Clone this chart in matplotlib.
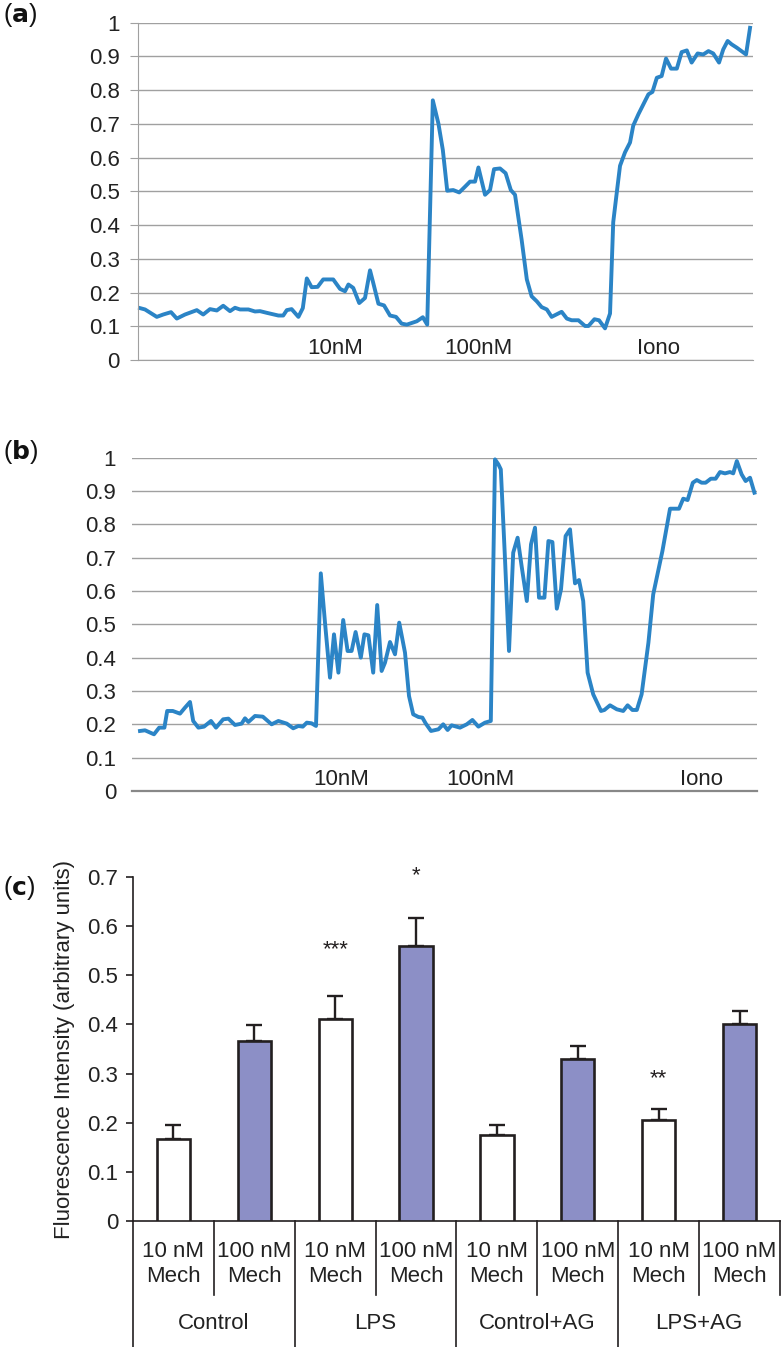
import numpy as np
import matplotlib
matplotlib.use('Agg')
import matplotlib.pyplot as plt
from matplotlib.transforms import blended_transform_factory

plt.rcParams['font.family'] = ['Liberation Sans', 'DejaVu Sans']

# trace (a): time (frames) and normalised fluorescence
t_a = [0.5, 1.75, 4.7, 6.3, 8.25, 9.7, 11.75, 14.7, 16.3, 18.0, 19.7, 21.3, 23.0, 24.25, 25.5,
       27.6, 29.25, 30.5, 32.2, 35.1, 36.3, 37.2, 38.4, 40.1, 41.2, 42.2, 43.4, 44.9, 46.3, 48.8,
       50.5, 51.75, 52.6, 53.8, 55.3, 56.75, 58.0, 58.8, 60.1, 61.5, 63.0, 64.5, 65.9, 67.2, 69.7,
       71.2, 72.3, 73.7, 75.1, 76.2, 77.3, 78.8, 80.3, 81.75, 83.0, 84.25, 85.1, 86.75, 88.0, 89.0,
       90.5, 91.9, 93.2, 94.25, 95.9, 97.2, 98.4, 99.7, 100.9, 102.2, 103.4, 105.9, 107.2, 108.4,
       110.1, 111.75, 112.6, 114.1, 115.25, 116.75, 118.0, 118.8, 119.7, 120.5, 121.75, 123.0,
       123.8, 125.1, 126.75, 127.6, 128.6, 129.7, 130.9, 132.0, 133.25, 134.7, 135.9, 137.2,
       138.4, 139.9, 141.3, 142.6, 143.8, 145.25, 146.3, 147.4, 148.4, 149.7, 152.0, 153.0]
f_a = [.154, .150, .128, .135, .142, .123, .135, .148, .135, .151, .147, .161, .145, .155, .150,
       .150, .144, .145, .140, .132, .132, .148, .151, .128, .154, .242, .216, .217, .239, .239,
       .211, .204, .224, .214, .169, .184, .266, .229, .167, .162, .132, .128, .108, .105, .115,
       .127, .105, .770, .701, .623, .502, .504, .497, .514, .529, .529, .571, .490, .504, .566,
       .568, .554, .504, .490, .357, .239, .189, .174, .157, .150, .128, .143, .123, .118,
       .118, .101, .101, .121, .118, .094, .138, .409, .498, .576, .616, .645,
       .695, .729, .768, .788, .795, .837, .842, .894, .864, .864, .913, .918,
       .882, .909, .906, .916, .909, .882, .921, .946, .936, .926, .906, .985]

# trace (b)
t_b = [2.0, 3.25, 5.5, 6.8, 8.1, 8.8, 10.2, 12.0, 13.25, 14.5, 15.3, 16.6, 18.0, 19.75, 21.0,
       22.8, 24.1, 25.75, 27.4, 28.25, 29.1, 30.75, 32.7, 34.9, 36.6, 38.7, 40.3, 41.6, 42.7,
       43.7, 44.9, 46.0, 47.2, 48.25, 49.5, 50.5, 51.6, 52.8, 53.9, 54.9, 55.9, 57.2, 58.1,
       59.1, 60.3, 61.3, 62.4, 63.25, 64.5, 65.75, 66.8, 68.25, 69.25, 70.3, 71.6, 72.6, 73.4,
       74.75, 76.6, 77.8, 78.9, 79.9, 82.0, 83.7, 85.1, 86.6, 88.25, 89.7, 90.75, 91.6, 92.2,
       93.25, 94.25, 95.3, 96.4, 97.4, 98.7, 99.75, 100.75, 101.75, 103.1, 104.1, 105.1, 106.2,
       107.25, 108.4, 109.5, 110.75, 111.75, 112.8, 113.9, 115.3, 117.25, 118.1, 119.5, 121.2,
       122.8, 123.9, 125.1, 126.2, 127.4, 129.1, 130.3, 132.6, 134.5, 136.75, 137.8, 138.9,
       140.2, 141.2, 142.4, 143.4, 144.7, 145.9, 147.0, 148.25, 149.5, 150.3, 151.2, 152.4,
       153.4, 154.5, 155.6]
f_b = [.18, .182, .17, .19, .19, .24, .24, .232, .25, .267, .21, .19, .193, .21, .19,
       .215, .217, .198, .202, .218, .207, .225, .223, .20, .21, .202, .188, .195, .193,
       .205, .203, .195, .653, .505, .34, .47, .355, .513, .42, .42, .477, .40, .47,
       .467, .355, .558, .36, .385, .447, .41, .505, .415, .285, .23, .222, .22, .203,
       .18, .185, .20, .183, .197, .19, .20, .213, .193, .205, .21, .995, .98, .965,
       .695, .42, .715, .76, .675, .57, .74, .79, .58, .58, .75, .747, .547,
       .605, .765, .785, .623, .633, .57, .355, .29, .24, .243, .257, .245,
       .24, .257, .243, .243, .29, .445, .59, .72, .847, .847, .877, .873,
       .925, .933, .925, .925, .937, .937, .957, .953, .957, .953, .99, .95,
       .93, .94, .895]

trace_labels = ['10nM', '100nM', 'Iono']
label_t_a = [49.25, 85, 130]
label_t_b = [52.4, 87, 142.4]

# panel (c)
groups = ['Control', 'LPS', 'Control+AG', 'LPS+AG']
doses = ['10 nM\nMech', '100 nM\nMech']
means = [0.167, 0.366, 0.411, 0.560, 0.176, 0.330, 0.206, 0.400]
errs = [0.028, 0.033, 0.047, 0.057, 0.019, 0.027, 0.023, 0.027]
stars = {2: '***', 3: '*', 6: '**'}
star_y = [0.552, 0.703, 0.290]

blue = '#2b84c6'
grid_c = '#a0a0a0'
txt = '#222222'
fs = 16

fig = plt.figure(figsize=(7.81, 13.47), dpi=100)

# ---- (a)
ax1 = fig.add_axes([0.1767, 0.7327, 0.7875, 0.2504])
ax1.plot(t_a, f_a, color=blue, lw=2.8, clip_on=False, solid_joinstyle='round')
ax1.set_xlim(0, 153.75)
ax1.set_ylim(0, 1)
ax1.set_yticks(np.arange(0, 1.01, 0.1))
ax1.set_yticklabels(['0'] + ['%.1f' % v for v in np.arange(0.1, 0.95, 0.1)] + ['1'])
ax1.yaxis.grid(True, color=grid_c, lw=1)
ax1.set_xticks([])
for s in ['top', 'right']:
    ax1.spines[s].set_visible(False)
ax1.spines['left'].set_color(grid_c)
ax1.spines['bottom'].set_color(grid_c)
ax1.tick_params(axis='y', length=6, color=grid_c, labelsize=fs, pad=7, labelcolor=txt)
for lab, t in zip(trace_labels, label_t_a):
    ax1.text(t, 0.035, lab, ha='center', va='center', fontsize=fs, color=txt)
ax1.set_axisbelow(True)

# ---- (b)
ax2 = fig.add_axes([0.169, 0.4128, 0.8003, 0.2474])
ax2.plot(t_b, f_b, color=blue, lw=2.8, clip_on=False, solid_joinstyle='round')
ax2.set_xlim(0, 156.25)
ax2.set_ylim(0, 1)
ax2.set_yticks(np.arange(0, 1.01, 0.1))
ax2.set_yticklabels(['0'] + ['%.1f' % v for v in np.arange(0.1, 0.95, 0.1)] + ['1'])
ax2.yaxis.grid(True, color=grid_c, lw=1)
ax2.set_xticks([])
for s in ['top', 'right', 'left']:
    ax2.spines[s].set_visible(False)
ax2.spines['bottom'].set_color('#888888')
ax2.spines['bottom'].set_linewidth(1.6)
ax2.tick_params(axis='y', length=0, labelsize=fs, pad=11.5, labelcolor=txt)
for lab, t in zip(trace_labels, label_t_b):
    ax2.text(t, 0.033, lab, ha='center', va='center', fontsize=fs, color=txt)
ax2.set_axisbelow(True)

# ---- (c)
ax3 = fig.add_axes([0.1703, 0.0935, 0.8284, 0.2554])
x = np.arange(len(means)) + 0.5
colors = ['white', '#8c8fc6'] * 4
ax3.bar(x, means, width=0.41, color=colors, edgecolor='#231f20', lw=1.9, zorder=3)
ax3.errorbar(x, means, yerr=[np.zeros(len(errs)), errs], fmt='none', ecolor='#231f20',
             elinewidth=1.7, capsize=6, capthick=1.7, zorder=2)
for (i, s), yv in zip(stars.items(), star_y):
    ax3.text(x[i], yv, s, ha='center', va='center', fontsize=16, color='#231f20')
ax3.set_xlim(0, 8)
ax3.set_ylim(0, 0.7)
ax3.set_yticks(np.arange(0, 0.71, 0.1))
ax3.set_yticklabels(['0'] + ['%.1f' % v for v in np.arange(0.1, 0.75, 0.1)])
ax3.set_xticks([])
for s in ['top', 'right']:
    ax3.spines[s].set_visible(False)
for s in ['left', 'bottom']:
    ax3.spines[s].set_color('#231f20')
    ax3.spines[s].set_linewidth(1.2)
ax3.tick_params(axis='y', length=5, width=1.2, color='#231f20', labelsize=fs, pad=5.5,
                labelcolor=txt)
ax3.set_ylabel('Fluorescence Intensity (arbitrary units)', fontsize=fs, color=txt)
ax3.yaxis.set_label_coords(-0.09, 0.5)

tr = blended_transform_factory(ax3.transData, ax3.transAxes)
for k in range(1, 8):
    y0 = -0.215 if k % 2 == 1 else -0.37
    ax3.plot([k, k], [0, y0], transform=tr, color='#231f20', lw=1.2, clip_on=False)
ax3.plot([0, 0], [0, -0.37], transform=tr, color='#231f20', lw=1.2, clip_on=False)
ax3.plot([8, 8], [0, -0.215], transform=tr, color='#231f20', lw=1.2, clip_on=False)
for i, xi in enumerate(x):
    ax3.text(xi, -0.125, doses[i % 2], transform=tr, ha='center', va='center',
             fontsize=fs, color=txt, linespacing=1.3)
for g, name in enumerate(groups):
    ax3.text(2 * g + 1, -0.297, name, transform=tr, ha='center', va='center',
             fontsize=fs, color=txt)

# panel letters
for lab, yy in [('a', 0.9885), ('b', 0.6645), ('c', 0.3405)]:
    fig.text(0.004, yy, '(' + r'$\mathbf{%s}$' % lab + ')', fontsize=18, va='center',
             ha='left', color='#111111')

fig.savefig('out.png', dpi=100)
